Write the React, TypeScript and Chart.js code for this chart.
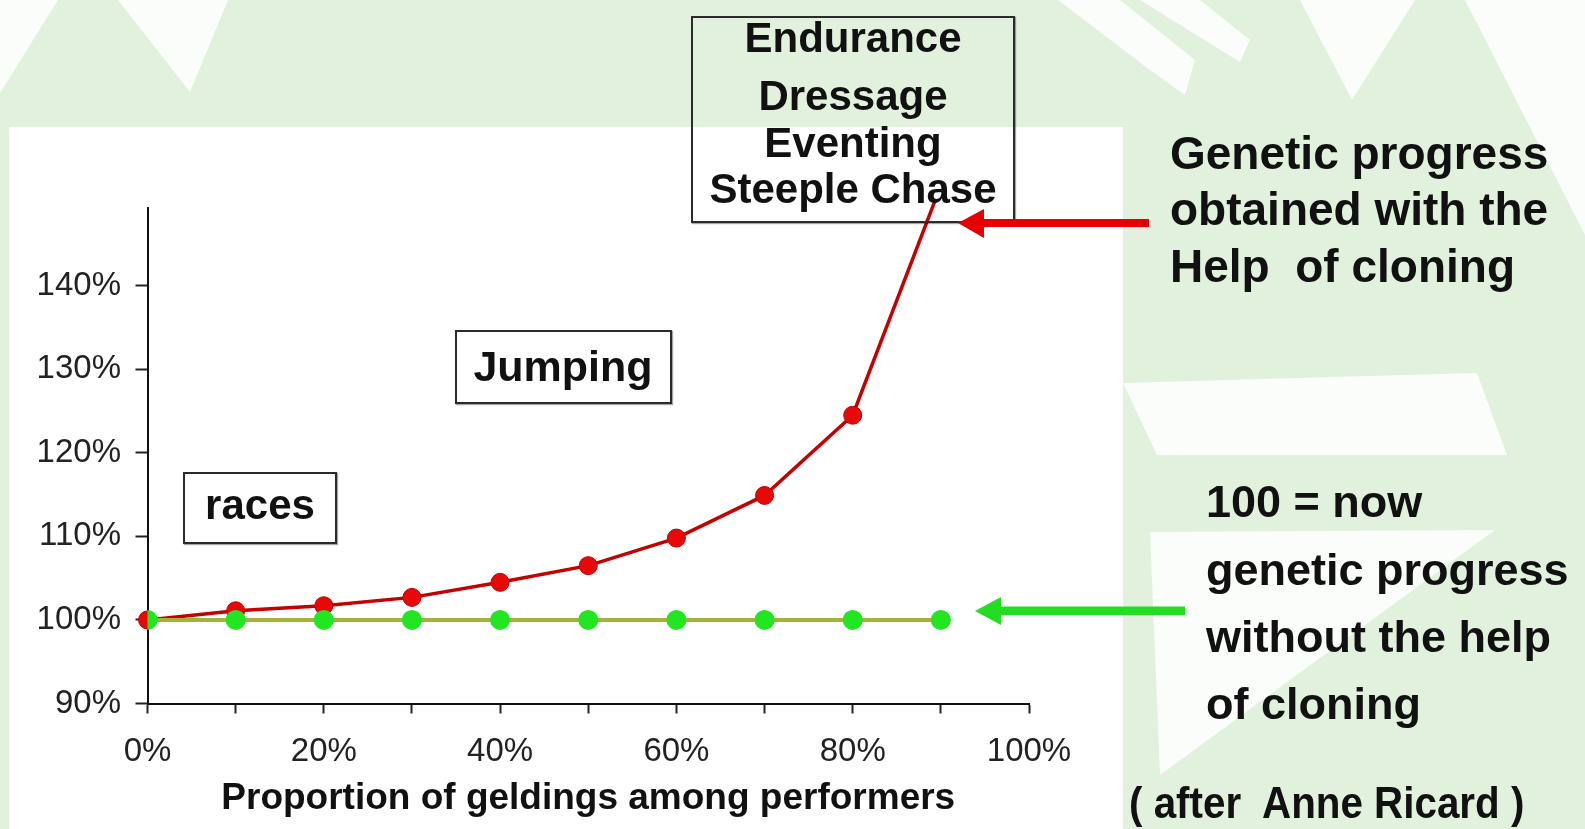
import React, { useEffect, useRef } from 'react';
import { Chart, registerables } from 'chart.js';

Chart.register(...registerables);

const FONT = '"Liberation Sans", Arial, Helvetica, sans-serif';

// ---- data ----
const proportions = [0, 10, 20, 30, 40, 50, 60, 70, 80, 90];
const withCloning = [100, 101.1, 101.7, 102.7, 104.5, 106.5, 109.8, 114.9, 124.5, 152];
const withoutCloning = [100, 100, 100, 100, 100, 100, 100, 100, 100, 100];
const xTickValues = [0, 10, 20, 30, 40, 50, 60, 70, 80, 90, 100];
const xTickLabels = ['0%', '', '20%', '', '40%', '', '60%', '', '80%', '', '100%'];
const yTickValues = [90, 100, 110, 120, 130, 140];
const yTickLabels = ['90%', '100%', '110%', '120%', '130%', '140%'];
const xTitle = 'Proportion of geldings among performers';

const W = 1585;
const H = 829;

type TextProps = {
  x: number;
  base: number;
  size: number;
  text: string;
  center?: boolean;
  sx?: number;
  bold?: boolean;
};

const Txt = ({ x, base, size, text, center, sx = 1, bold = true }: TextProps) => (
  <div
    style={{
      position: 'absolute',
      left: x,
      top: base - 0.8465 * size,
      fontSize: size,
      lineHeight: `${size}px`,
      height: size,
      fontFamily: FONT,
      fontWeight: bold ? 'bold' : 'normal',
      whiteSpace: 'pre',
      color: '#111',
      transform: center ? `translateX(-50%) scaleX(${sx})` : `scaleX(${sx})`,
      transformOrigin: center ? 'center' : 'left',
    }}
  >
    {text}
  </div>
);

const Box = ({ l, t, r, b }: { l: number; t: number; r: number; b: number }) => (
  <div
    style={{
      position: 'absolute',
      left: l,
      top: t,
      width: r - l,
      height: b - t,
      boxSizing: 'border-box',
      border: '2px solid #2b2b2b',
      boxShadow: '1px 1px 1px rgba(0,0,0,0.35)',
    }}
  />
);

export default function App() {
  const canvasRef = useRef<HTMLCanvasElement | null>(null);

  useEffect(() => {
    document.body.style.margin = '0';
    const canvas = canvasRef.current;
    if (!canvas) return;
    const chart = new Chart(canvas, {
      type: 'line',
      data: {
        datasets: [
          {
            label: 'without cloning',
            data: proportions.map((x, i) => ({ x, y: withoutCloning[i] })),
            borderColor: '#a3b33a',
            borderWidth: 4,
            pointRadius: 10,
            pointBackgroundColor: '#22e622',
            pointBorderWidth: 0,
            tension: 0,
            order: 0,
          },
          {
            label: 'with cloning',
            data: proportions.map((x, i) => ({ x, y: withCloning[i] })),
            borderColor: '#c40000',
            borderWidth: 3.5,
            pointRadius: 9,
            pointBackgroundColor: '#e80808',
            pointBorderColor: '#c40000',
            pointBorderWidth: 1,
            tension: 0,
            order: 1,
            clip: { left: 12, top: 8, right: 12, bottom: 12 },
          },
        ],
      },
      options: {
        animation: false,
        responsive: false,
        maintainAspectRatio: false,
        devicePixelRatio: 1,
        layout: { padding: { left: 0, right: W - 1029, top: 208, bottom: 0 } },
        plugins: {
          legend: { display: false },
          tooltip: { enabled: false },
        },
        scales: {
          x: {
            type: 'linear',
            min: 0,
            max: 100,
            afterBuildTicks: (s: any) => {
              s.ticks = xTickValues.map((v) => ({ value: v }));
            },
            afterFit: (s: any) => {
              s.height = H - 703.5;
            },
            ticks: {
              autoSkip: false,
              maxRotation: 0,
              minRotation: 0,
              padding: 19,
              color: '#222',
              font: { family: FONT, size: 33 },
              callback: (_v: any, i: number) => xTickLabels[i],
            },
            grid: {
              drawOnChartArea: false,
              drawTicks: true,
              tickLength: 10,
              tickColor: '#222',
              tickWidth: 2,
            },
            border: { display: true, color: '#111', width: 2 },
            title: {
              display: true,
              text: xTitle,
              color: '#111',
              font: { family: FONT, size: 37, weight: 'bold' },
              padding: { top: 0, bottom: 8 },
            },
          },
          y: {
            type: 'linear',
            min: 90,
            max: 149.3,
            afterBuildTicks: (s: any) => {
              s.ticks = yTickValues.map((v) => ({ value: v }));
            },
            afterFit: (s: any) => {
              s.width = 147.5;
            },
            ticks: {
              padding: 14.5,
              color: '#222',
              font: { family: FONT, size: 33 },
              callback: (_v: any, i: number) => yTickLabels[i],
            },
            grid: {
              drawOnChartArea: false,
              drawTicks: true,
              tickLength: 12,
              tickColor: '#222',
              tickWidth: 2,
            },
            border: { display: true, color: '#111', width: 2 },
          },
        },
      },
    } as any);
    return () => chart.destroy();
  }, []);

  return (
    <div
      style={{
        position: 'absolute',
        left: 0,
        top: 0,
        width: W,
        height: H,
        overflow: 'hidden',
        background: '#e1f1dd',
      }}
    >
      <svg width={W} height={H} style={{ position: 'absolute', left: 0, top: 0 }}>
        <g fill="#ffffff" fillOpacity={0.85}>
          <polygon points="0,0 58,0 0,93" />
          <polygon points="118,0 228,0 190,92" />
          <polygon points="1058,0 1120,0 1195,60 1185,95 1150,70" />
          <polygon points="1140,0 1200,0 1250,40 1240,62" />
          <polygon points="1300,0 1415,0 1352,100" />
          <polygon points="1465,0 1585,0 1585,235" />
          <polygon points="1123,383 1477,373 1507,455 1157,455" />
          <polygon points="1150,532 1495,530 1160,775" />
        </g>
        <rect x={9} y={127} width={1114} height={H - 127} fill="#ffffff" />
      </svg>
      <canvas
        ref={canvasRef}
        width={W}
        height={H}
        style={{ position: 'absolute', left: 0, top: 0, width: W, height: H }}
      />
      {/* annotation boxes */}
      <Box l={691} t={16} r={1015} b={223} />
      <Txt x={853} base={53} size={42} text="Endurance" center />
      <Txt x={853} base={111} size={42} text="Dressage" center />
      <Txt x={853} base={158} size={42} text="Eventing" center />
      <Txt x={853} base={204} size={42} text="Steeple Chase" center />

      <Box l={455} t={330} r={672} b={404} />
      <Txt x={563} base={381} size={43} text="Jumping" center />

      <Box l={183} t={472} r={337} b={544} />
      <Txt x={260} base={520} size={42} text="races" center />

      {/* arrows */}
      <svg width={W} height={H} style={{ position: 'absolute', left: 0, top: 0 }}>
        <rect x={980} y={219} width={169} height={8} fill="#e60000" />
        <polygon points="958,223 984,209 984,238" fill="#e60000" />
        <rect x={998} y={606.5} width={187} height={8.5} fill="#22dd22" />
        <polygon points="975,611 1001,597 1001,625" fill="#22dd22" />
      </svg>

      {/* right side texts */}
      <Txt x={1170} base={169} size={46} text="Genetic progress" />
      <Txt x={1170} base={225} size={46} text="obtained with the" />
      <Txt x={1170} base={282} size={46} text="Help  of cloning" />

      <Txt x={1206} base={517} size={45} text="100 = now" />
      <Txt x={1206} base={585} size={45} text="genetic progress" />
      <Txt x={1206} base={652} size={45} text="without the help" />
      <Txt x={1206} base={719} size={45} text="of cloning" />
      <Txt x={1129} base={818} size={44} text="( after  Anne Ricard )" sx={0.917} />
    </div>
  );
}
